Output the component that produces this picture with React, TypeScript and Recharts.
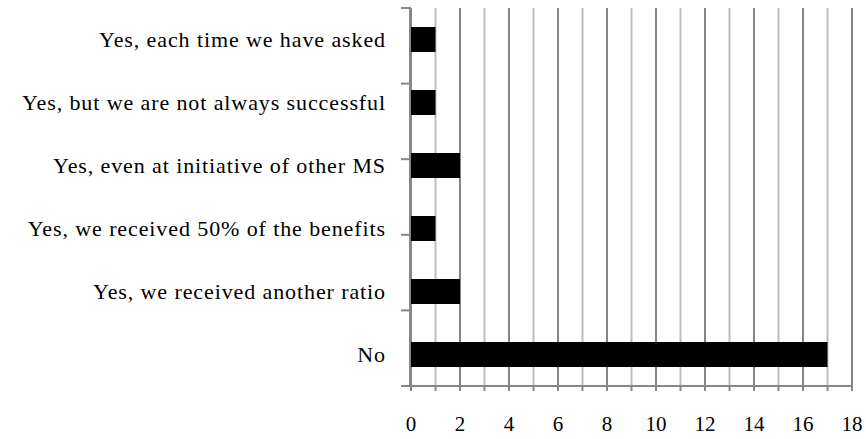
import { BarChart, Bar, XAxis, YAxis, CartesianGrid } from 'recharts';

const categories = [
  'Yes, each time we have asked',
  'Yes, but we are not always successful',
  'Yes, even at initiative of other MS',
  'Yes, we received 50% of the benefits',
  'Yes, we received another ratio',
  'No'
];
const counts = [1, 1, 2, 1, 2, 17];
const unitTicks = Array.from({ length: 19 }, (_, i) => i);
const boundaryTicks = [0, 1, 2, 3, 4, 5, 6];

const data = categories.map((name, i) => ({ name, value: counts[i] }));

const FONT = '"Liberation Serif", serif';
const TEXT = { fill: '#000', fontSize: 22, fontFamily: FONT, letterSpacing: 0.9 };
const AXIS = { stroke: '#868686', strokeWidth: 2 };

// every unit gets a line: dark on even values, light on odd ones
const GridLine = (props: any) => (
  <line
    x1={props.x1}
    y1={props.y1}
    x2={props.x2}
    y2={props.y2}
    stroke={props.index % 2 === 1 ? '#bdbdbd' : '#868686'}
    strokeWidth={2}
  />
);

export default function App() {
  return (
    <div>
      <style>{`body{margin:0}`}</style>
      <BarChart
        width={866}
        height={439}
        data={data}
        layout="vertical"
        margin={{ top: 8, right: 14, bottom: 0, left: 0 }}
      >
        <CartesianGrid
          yAxisId="cat"
          horizontal={false}
          vertical={GridLine}
          syncWithTicks
        />
        <XAxis
          type="number"
          domain={[0, 18]}
          ticks={unitTicks}
          interval={0}
          height={53}
          axisLine={AXIS}
          tickLine={AXIS}
          tickSize={5}
          tickMargin={25}
          tickFormatter={(v: number) => (v % 2 === 0 ? String(v) : '')}
          tick={{ ...TEXT, fontSize: 21, letterSpacing: 0 }}
        />
        <YAxis
          yAxisId="cat"
          type="category"
          dataKey="name"
          width={410}
          axisLine={AXIS}
          tickLine={false}
          tickMargin={18}
          tick={TEXT}
        />
        {/* tick marks between the categories */}
        <YAxis
          yAxisId="boundary"
          type="number"
          domain={[0, 6]}
          ticks={boundaryTicks}
          width={1}
          axisLine={false}
          tickLine={AXIS}
          tickSize={10}
          tickFormatter={() => ''}
        />
        <Bar
          dataKey="value"
          yAxisId="cat"
          fill="#000"
          barSize={25}
          isAnimationActive={false}
        />
      </BarChart>
    </div>
  );
}
